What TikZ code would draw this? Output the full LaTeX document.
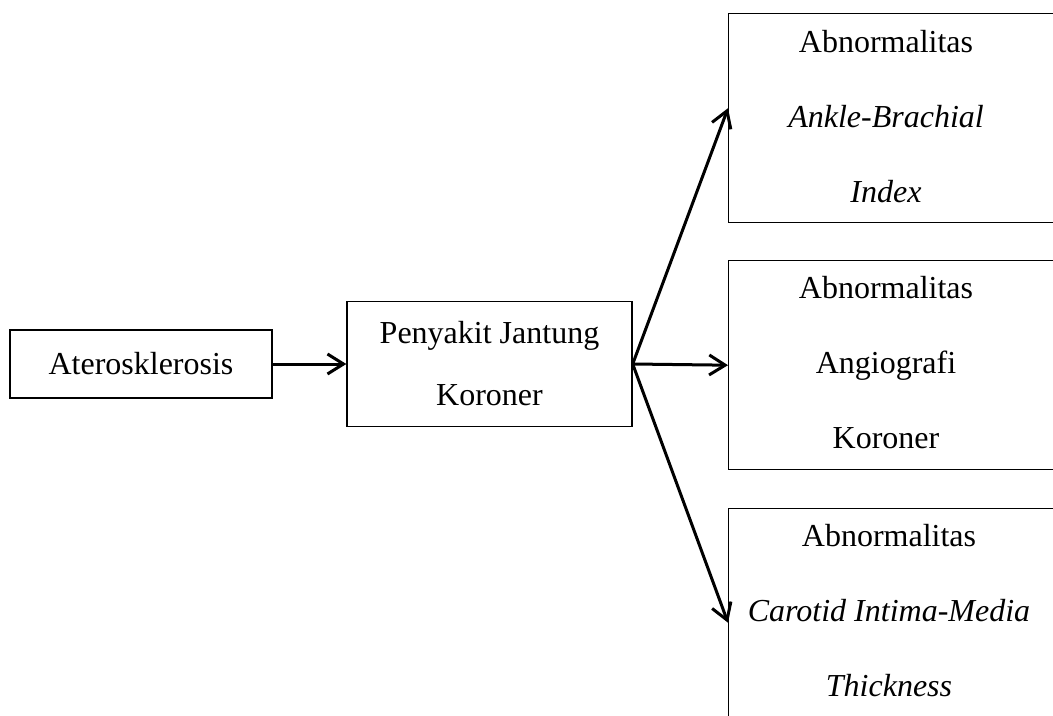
\documentclass[tikz,border=0pt]{standalone}
\usepackage{fontspec}
\setmainfont{Liberation Serif}
\usetikzlibrary{arrows.meta}

\begin{document}
\begin{tikzpicture}[x=0.5pt, y=-0.5pt,
    kotak/.style={draw, line width=0.7pt, inner sep=0pt},
    teks/.style={align=center, font=\fontsize{16}{37.5}\selectfont},
    panah/.style={line width=1.5pt, -{Straight Barb[length=8pt,width=10pt]}}]
        \useasboundingbox (0,0) rectangle (1053,716);
        \clip (0,0) rectangle (1053,716);
        \node [kotak, teks, minimum width=131pt, minimum height=34pt] (atero) at (141,364) {Aterosklerosis};
        \node [kotak, teks, font=\fontsize{16}{31}\selectfont, minimum width=142.5pt, minimum height=62.5pt] (pjk) at (489.5,364) {Penyakit Jantung\\Koroner};
        \node [kotak, anchor=north west, minimum width=171pt, minimum height=104.5pt] (abi) at (728,13) {};
        \node [kotak, anchor=north west, minimum width=171pt, minimum height=104.5pt] (angio) at (728,260) {};
        \node [kotak, anchor=north west, minimum width=171pt, minimum height=110pt] (cimt) at (728,508) {};
        \node [teks] (abiteks) at (886,117) {Abnormalitas\\\textit{Ankle-Brachial}\\\textit{Index}};
        \node [teks] (angioteks) at (886,363) {Abnormalitas\\Angiografi\\Koroner};
        \node [teks] (cimtteks) at (889,611) {Abnormalitas\\\textit{Carotid Intima-Media}\\\textit{Thickness}};
        \draw [panah] (atero.east) -- (pjk.west);
        \draw [panah] (pjk.east) -- ([yshift=5pt]abi.west);
        \draw [panah] (pjk.east) -- (angio.west);
        \draw [panah] (pjk.east) -- ([yshift=-2pt]cimt.west);
    \end{tikzpicture}
\end{document}
